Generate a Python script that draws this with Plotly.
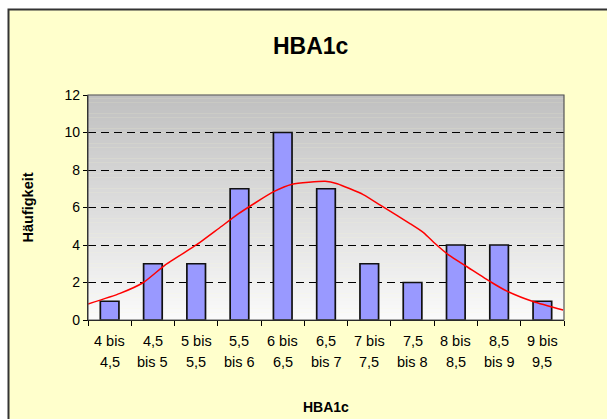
import plotly.graph_objects as go

# ---- data ----
categories = ["4 bis 4,5", "4,5 bis 5", "5 bis 5,5", "5,5 bis 6", "6 bis 6,5",
              "6,5 bis 7", "7 bis 7,5", "7,5 bis 8", "8 bis 8,5", "8,5 bis 9", "9 bis 9,5"]
tick_line1 = ["4 bis", "4,5", "5 bis", "5,5", "6 bis", "6,5", "7 bis", "7,5", "8 bis", "8,5", "9 bis"]
tick_line2 = ["4,5", "bis 5", "5,5", "bis 6", "6,5", "bis 7", "7,5", "bis 8", "8,5", "bis 9", "9,5"]
counts = [1, 3, 3, 7, 10, 7, 3, 2, 4, 4, 1]

curve_x = [4.0, 4.37, 4.64, 4.89, 5.26, 5.51, 5.74, 5.93, 6.14, 6.36, 6.74, 6.88,
           7.18, 7.41, 7.72, 7.88, 8.01, 8.17, 8.38, 8.65, 8.84, 9.15, 9.49]
curve_y = [0.85, 1.42, 2.0, 2.93, 4.03, 4.88, 5.67, 6.24, 6.83, 7.24, 7.40, 7.27,
           6.69, 6.03, 5.14, 4.65, 4.08, 3.46, 2.84, 2.04, 1.54, 0.97, 0.53]

y_ticks = [0, 2, 4, 6, 8, 10, 12]

title_text = "HBA1c"
x_title = "HBA1c"
y_title = "Häufigkeit"

# ---- layout geometry (pixels) ----
W, H = 607, 419
L, R, T, B = 88, 564, 95, 320
pw, ph = R - L, B - T

def px(x):
    return (x - L) / pw

def py(y):
    return (B - y) / ph

FONT = "Liberation Sans, Arial, sans-serif"

fig = go.Figure()

fig.add_trace(go.Bar(
    x=categories, y=counts,
    marker=dict(color="#9999FF", line=dict(color="#111111", width=1.7)),
    width=0.43, showlegend=False, hoverinfo="x+y",
))

fig.add_trace(go.Scatter(
    x=curve_x, y=curve_y, xaxis="x2", mode="lines",
    line=dict(color="#FF0000", width=1.5, shape="spline", smoothing=0.5),
    showlegend=False,
))

shapes = []
# outer chart area
shapes.append(dict(type="rect", xref="paper", yref="paper",
                   x0=px(8.5), x1=px(640), y0=py(9.5), y1=py(440),
                   fillcolor="#FFFFCC", line=dict(color="#333333", width=2), layer="below"))
# gradient plot background
n = 60
for i in range(n):
    t = i / (n - 1)
    g = int(round(192 + (250 - 192) * t))
    col = f"rgb({g},{g},{g})"
    shapes.append(dict(type="rect", xref="paper", yref="paper",
                       x0=0, x1=1, y0=1 - (i + 1) / n, y1=1 - i / n + 0.001,
                       fillcolor=col, line=dict(width=0), layer="below"))
# plot border
shapes.append(dict(type="rect", xref="paper", yref="paper", x0=0, x1=1, y0=0, y1=1,
                   line=dict(color="#555555", width=1.2), fillcolor="rgba(0,0,0,0)", layer="above"))

annotations = []
annotations.append(dict(text=f"<b>{title_text}</b>", xref="paper", yref="paper",
                        x=px(311), y=py(46), xanchor="center", yanchor="middle", showarrow=False,
                        font=dict(size=23, color="black", family=FONT)))
annotations.append(dict(text=f"<b>{x_title}</b>", xref="paper", yref="paper",
                        x=0.5, y=py(407), xanchor="center", yanchor="middle", showarrow=False,
                        font=dict(size=14, color="black", family=FONT)))
annotations.append(dict(text=f"<b>{y_title}</b>", xref="paper", yref="paper",
                        x=px(27), y=0.5, xanchor="center", yanchor="middle", showarrow=False,
                        textangle=-90, font=dict(size=14.5, color="black", family=FONT)))
for i, (a, b) in enumerate(zip(tick_line1, tick_line2)):
    annotations.append(dict(text=a, xref="x", yref="paper", x=i, y=py(341),
                            xanchor="center", yanchor="middle", showarrow=False,
                            font=dict(size=14.5, color="black", family=FONT)))
    annotations.append(dict(text=b, xref="x", yref="paper", x=i, y=py(362),
                            xanchor="center", yanchor="middle", showarrow=False,
                            font=dict(size=14.5, color="black", family=FONT)))

fig.update_layout(
    width=W, height=H,
    margin=dict(l=L, r=W - R, t=T, b=H - B, pad=0),
    paper_bgcolor="white",
    plot_bgcolor="rgba(0,0,0,0)",
    font=dict(family=FONT, size=13, color="black"),
    bargap=0.57,
    shapes=shapes,
    annotations=annotations,
    xaxis=dict(type="category", range=[-0.5, 10.5], showticklabels=False,
               ticks="outside", ticklen=5, tickcolor="black", tickson="boundaries",
               showline=True, linecolor="black", linewidth=1.2, showgrid=False,
               zeroline=False, fixedrange=True),
    xaxis2=dict(overlaying="x", range=[4, 9.5], visible=False, fixedrange=True),
    yaxis=dict(range=[0, 12], tickvals=y_ticks, ticks="outside", ticklen=4,
               tickcolor="black", showline=True, linecolor="black", linewidth=1.2,
               showgrid=True, gridcolor="black", gridwidth=1, griddash="8px,5px",
               zeroline=False, tickfont=dict(size=14, family=FONT), fixedrange=True),
    hovermode=False,
)

fig.write_html("out.html", config={"displayModeBar": False, "staticPlot": True},
               post_script="document.body.style.margin='0';document.body.style.padding='0';")
